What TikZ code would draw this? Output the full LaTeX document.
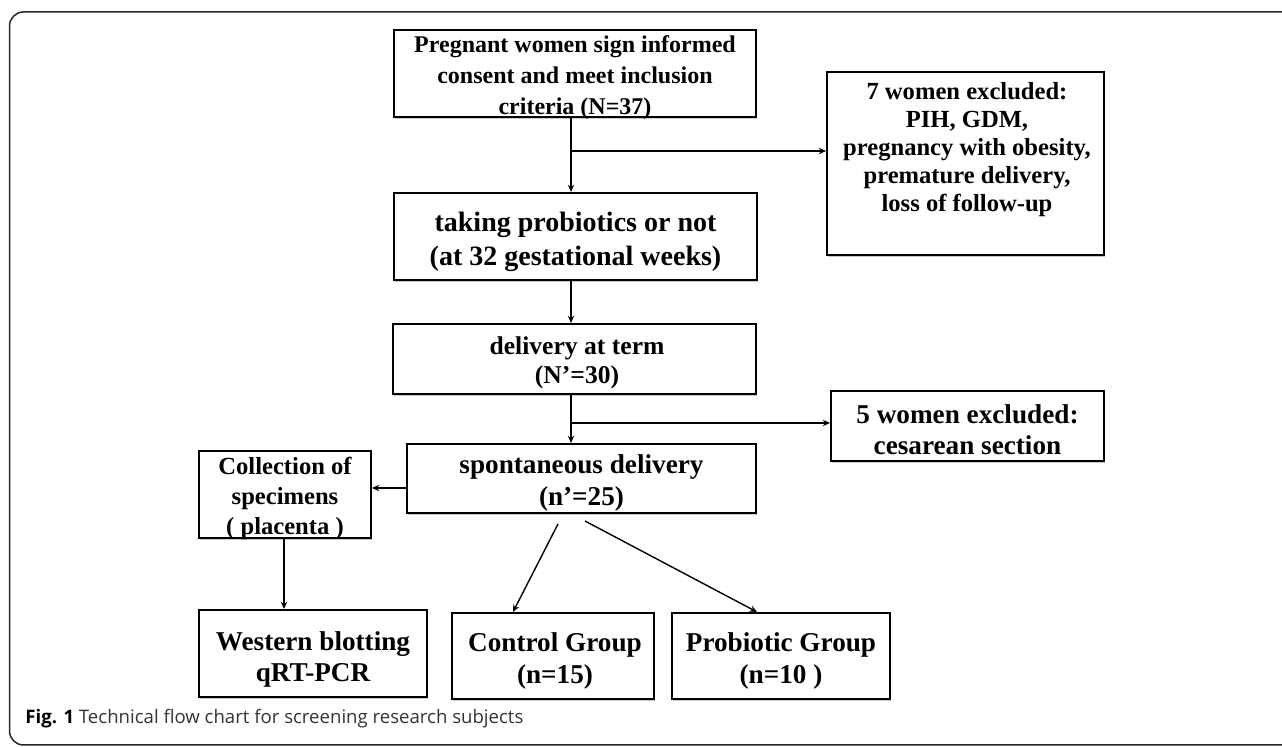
\documentclass[tikz,border=0pt]{standalone}
\usepackage{fontspec}
\setmainfont{Liberation Serif}
\newfontfamily\capfont{Open Sans}
\usetikzlibrary{arrows.meta,shadows,calc}
\begin{document}
\begin{tikzpicture}[x=0.5pt,y=-0.5pt,
  box/.style={draw=black, line width=1pt, fill=white, inner sep=0pt,
    drop shadow={shadow xshift=0.6pt, shadow yshift=-0.8pt, opacity=0.35, fill=black!60}},
  txt/.style={align=center, inner sep=0pt},
  arr/.style={line width=0.7pt, draw=black, -{Stealth[length=3.6pt,width=3.2pt]}},
  frame/.style={draw=black!85, line width=0.75pt, rounded corners=7pt}]
\useasboundingbox (0,0) rectangle (1282,747);
\begin{scope}
  \clip (0,0) rectangle (1282,747);
  \draw[frame] (9.5,12) rectangle (1320,745);
\end{scope}

% boxes
\node[box, minimum width=181pt, minimum height=43.5pt] (b1) at (575,73.5) {};
\node[box, minimum width=181.5pt, minimum height=43.5pt] (b2) at (575.5,236.5) {};
\node[box, minimum width=181.5pt, minimum height=35pt] (b3) at (574.5,359) {};
\node[box, minimum width=174.5pt, minimum height=34.5pt] (b4) at (581.5,478.5) {};
\node[box, minimum width=138.5pt, minimum height=91.5pt] (w7) at (965.5,163.5) {};
\node[box, minimum width=136.5pt, minimum height=35pt] (w5) at (967.5,426) {};
\node[box, minimum width=86pt, minimum height=43.5pt] (coll) at (285,494.5) {};
\node[box, minimum width=114pt, minimum height=43.5pt] (west) at (313,653.5) {};
\node[box, minimum width=101pt, minimum height=43pt] (ctrl) at (553,656) {};
\node[box, minimum width=109pt, minimum height=43pt] (prob) at (781,656) {};

% texts
\node[txt, font=\fontsize{12}{15.5}\selectfont\bfseries] (b1t) at (575,77.5)
  {Pregnant women sign informed\\consent and meet inclusion\\criteria (N=37)};
\node[txt, font=\fontsize{14}{17}\selectfont\bfseries] (b2t) at (575.5,241.5)
  {taking probiotics or not\\(at 32 gestational weeks)};
\node[txt, font=\fontsize{12.8}{14.5}\selectfont\bfseries] (b3t) at (577,362.5)
  {delivery at term\\(N’=30)};
\node[txt, font=\fontsize{13.6}{16}\selectfont\bfseries] (b4t) at (581.5,482.5)
  {spontaneous delivery\\(n’=25)};
\node[txt, font=\fontsize{12.3}{14}\selectfont\bfseries] (w7t) at (967,150)
  {7 women excluded:\\PIH, GDM,\\pregnancy with obesity,\\premature delivery,\\loss of follow-up};
\node[txt, font=\fontsize{13.6}{15.5}\selectfont\bfseries] (w5t) at (967.5,430)
  {5 women excluded:\\cesarean section};
\node[txt, font=\fontsize{12.3}{15}\selectfont\bfseries] (collt) at (285,498.5)
  {Collection of\\specimens\\( placenta )};
\node[txt, font=\fontsize{13.6}{15.5}\selectfont\bfseries] (westt) at (313,659)
  {Western blotting\\qRT-PCR};
\node[txt, font=\fontsize{13.6}{16}\selectfont\bfseries] (ctrlt) at (555,660.5)
  {Control Group\\(n=15)};
\node[txt, font=\fontsize{13.6}{16}\selectfont\bfseries] (probt) at (781,660.5)
  {Probiotic Group\\(n=10 )};

% caption
\node[anchor=west, inner sep=0pt, text=black!80,
  font=\capfont\fontsize{9.3}{11}\selectfont] (cap) at (25,719)
  {\textcolor{black}{\textbf{Fig. 1}} Technical flow chart for screening research subjects};

% connectors
\coordinate (spine) at (571,0);
\coordinate (j1) at (571,151);
\coordinate (j2) at (571,423);
\coordinate (jc) at (0,488);
\coordinate (d1) at (558,524);
\coordinate (d2) at (585,521);

\draw[arr] (b1.south -| spine) -- (b2.north -| spine);
\draw[arr] (j1) -- (j1 -| w7.west);
\draw[arr] (b2.south -| spine) -- (b3.north -| spine);
\draw[arr] (b3.south -| spine) -- (b4.north -| spine);
\draw[arr] (j2) -- (j2 -| w5.west);
\draw[arr] (b4.west |- jc) -- (coll.east |- jc);
\draw[arr] (coll.south -| 284,0) -- (west.north -| 284,0);
\draw[arr] (d1) -- ($(ctrl.north)+(-40,0)$);
\draw[arr] (d2) -- ($(prob.north)+(-24,0)$);
\end{tikzpicture}
\end{document}
